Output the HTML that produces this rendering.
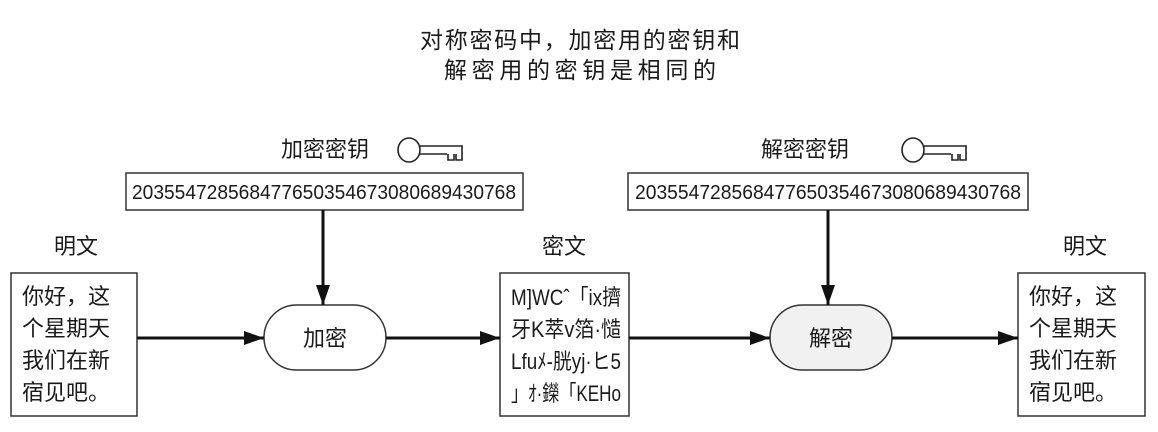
<!DOCTYPE html>
<html><head><meta charset="utf-8"><style>
html,body{margin:0;padding:0;background:#fff;}
svg{display:block;}
text{font-family:"Liberation Sans","Noto Sans CJK SC",sans-serif;fill:#1a1a1a;}
</style></head><body>
<svg width="1158" height="432" viewBox="0 0 1158 432" xmlns="http://www.w3.org/2000/svg">
<defs>
<marker id="ahb" viewBox="0 0 20 14" markerWidth="20" markerHeight="14" refX="20" refY="7" orient="auto" markerUnits="userSpaceOnUse">
<path d="M0,0 L20,7 L0,14 z" fill="#111"/>
</marker>
</defs>
<text x="580" y="48" font-size="23" text-anchor="middle" textLength="320" lengthAdjust="spacing">对称密码中，加密用的密钥和</text>
<text x="580" y="78" font-size="23" text-anchor="middle" textLength="272" lengthAdjust="spacing">解密用的密钥是相同的</text>

<text x="325" y="157" font-size="22" text-anchor="middle">加密密钥</text>
<g stroke="#222" stroke-width="1.6" fill="none">
<ellipse cx="409" cy="150" rx="11" ry="12"/>
<path d="M420,146 H462 V156 M420,154 H447 M448,154 V160 H454 V154 M456,154 V160 H462 V156"/>
</g>
<text x="805" y="157" font-size="22" text-anchor="middle">解密密钥</text>
<g stroke="#222" stroke-width="1.6" fill="none">
<ellipse cx="913" cy="150" rx="11" ry="12"/>
<path d="M924,146 H966 V156 M924,154 H951 M952,154 V160 H958 V154 M960,154 V160 H966 V156"/>
</g>

<rect x="126" y="173" width="397" height="37" fill="#fff" stroke="#333" stroke-width="1.5"/>
<text x="324" y="199" font-size="20" text-anchor="middle" textLength="384" lengthAdjust="spacingAndGlyphs">203554728568477650354673080689430768</text>
<rect x="628" y="173" width="400" height="37" fill="#fff" stroke="#333" stroke-width="1.5"/>
<text x="828" y="199" font-size="20" text-anchor="middle" textLength="386" lengthAdjust="spacingAndGlyphs">203554728568477650354673080689430768</text>

<text x="76" y="254" font-size="22" text-anchor="middle">明文</text>
<text x="564" y="254" font-size="22" text-anchor="middle">密文</text>
<text x="1085" y="254" font-size="22" text-anchor="middle">明文</text>

<rect x="11" y="273" width="126" height="143" fill="#fff" stroke="#333" stroke-width="1.5"/>
<g font-size="22">
<text x="22" y="304">你好，这</text>
<text x="22" y="336">个星期天</text>
<text x="22" y="368">我们在新</text>
<text x="22" y="400">宿见吧。</text>
</g>

<rect x="500" y="273" width="129" height="143" fill="#fff" stroke="#333" stroke-width="1.5"/>
<g font-size="22">
<text x="511" y="305" textLength="110" lengthAdjust="spacingAndGlyphs">M]WCˆ「ix擠</text>
<text x="511" y="337" textLength="110" lengthAdjust="spacingAndGlyphs">牙K萃v箔·慥</text>
<text x="511" y="369" textLength="110" lengthAdjust="spacingAndGlyphs">Lfuﾒ-胱yj·ヒ5</text>
<text x="511" y="401" textLength="110" lengthAdjust="spacingAndGlyphs">」ｵ·鑅「KEHo</text>
</g>

<rect x="1018" y="273" width="127" height="143" fill="#fff" stroke="#333" stroke-width="1.5"/>
<g font-size="22">
<text x="1029" y="304">你好，这</text>
<text x="1029" y="336">个星期天</text>
<text x="1029" y="368">我们在新</text>
<text x="1029" y="400">宿见吧。</text>
</g>

<rect x="264" y="305" width="122" height="65" rx="32.5" fill="#fff" stroke="#333" stroke-width="1.5"/>
<text x="325" y="346" font-size="22" text-anchor="middle">加密</text>
<rect x="770" y="305" width="122" height="65" rx="32.5" fill="#f1f1f1" stroke="#333" stroke-width="1.5"/>
<text x="831" y="346" font-size="22" text-anchor="middle">解密</text>

<g stroke="#111" stroke-width="3" fill="none">
<line x1="323" y1="210" x2="323" y2="305" marker-end="url(#ahb)"/>
<line x1="828" y1="210" x2="828" y2="305" marker-end="url(#ahb)"/>
<line x1="137" y1="338" x2="264" y2="338" marker-end="url(#ahb)"/>
<line x1="386" y1="338" x2="500" y2="338" marker-end="url(#ahb)"/>
<line x1="629" y1="338" x2="770" y2="338" marker-end="url(#ahb)"/>
<line x1="892" y1="338" x2="1018" y2="338" marker-end="url(#ahb)"/>
</g>
</svg>
</body></html>
